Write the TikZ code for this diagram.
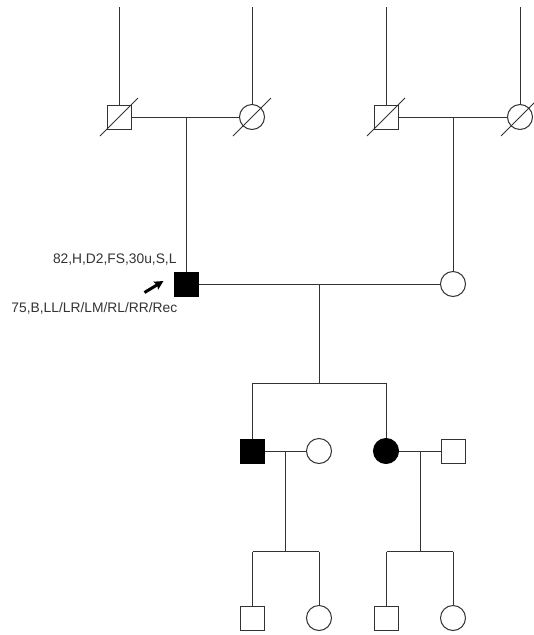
\documentclass[tikz,border=0pt]{standalone}
\usepackage{fontspec}
\setmainfont{Liberation Sans}
\usetikzlibrary{calc,arrows.meta}
\definecolor{ln}{HTML}{333333}
\definecolor{tx}{HTML}{333333}
\begin{document}
\begin{tikzpicture}[x=1pt,y=-1pt,
  line width=1pt,
  male/.style={draw=ln,fill=white,rectangle,minimum size=24pt,inner sep=0pt,line width=1pt},
  female/.style={draw=ln,fill=white,circle,minimum size=25pt,inner sep=0pt,line width=1pt},
  aff/.style={fill=black,draw=black},
  conn/.style={draw=ln,line width=1pt},
  lbl/.style={text=tx,font=\fontsize{13.8}{16}\selectfont,inner sep=0pt}]
\useasboundingbox (0,0) rectangle (534,635);
\fill[white] (0,0) rectangle (534,635);
% top coordinates
\coordinate (t1) at (119,7);
\coordinate (t2) at (252,7);
\coordinate (t3) at (386,7);
\coordinate (t4) at (520,7);
% generation I
\node[male] (gf1) at (119,117) {};
\node[female] (gm1) at (252,117) {};
\node[male] (gf2) at (386,117) {};
\node[female] (gm2) at (520,117) {};
% generation II
\node[male,aff] (P) at (186,284) {};
\node[female] (W) at (453,284) {};
% generation III
\node[male,aff] (c1) at (252.5,451) {};
\node[female] (s1) at (319,451) {};
\node[female,aff] (c2) at (386,451) {};
\node[male] (s2) at (453,451) {};
% generation IV
\node[male] (g1) at (252.5,618) {};
\node[female] (g2) at (319,618) {};
\node[male] (g3) at (386.5,618) {};
\node[female] (g4) at (453,618) {};
% helper coordinates
\coordinate (m1) at (186,117);
\coordinate (m2) at (453,117);
\coordinate (m3) at (319,284);
\coordinate (b3) at (319,383);
\coordinate (s3l) at (252.5,383);
\coordinate (s3r) at (386,383);
\coordinate (m4) at (285.7,451);
\coordinate (b4) at (285.7,551.7);
\coordinate (s4l) at (252.5,551.7);
\coordinate (s4r) at (319,551.7);
\coordinate (m5) at (420,451);
\coordinate (b5) at (420,551.7);
\coordinate (s5l) at (386.5,551.7);
\coordinate (s5r) at (453,551.7);
% connectors
\draw[conn] (t1) -- (gf1.north);
\draw[conn] (t2) -- (gm1.north);
\draw[conn] (t3) -- (gf2.north);
\draw[conn] (t4) -- (gm2.north);
\draw[conn] (gf1.east) -- (gm1.west);
\draw[conn] (gf2.east) -- (gm2.west);
\draw[conn] (m1) -- (P.north);
\draw[conn] (m2) -- (W.north);
\draw[conn] (P.east) -- (W.west);
\draw[conn] (m3) -- (b3);
\draw[conn] (s3l) -- (s3r);
\draw[conn] (s3l) -- (c1.north);
\draw[conn] (s3r) -- (c2.north);
\draw[conn] (c1.east) -- (s1.west);
\draw[conn] (c2.east) -- (s2.west);
\draw[conn] (m4) -- (b4);
\draw[conn] (s4l) -- (s4r);
\draw[conn] (s4l) -- (g1.north);
\draw[conn] (s4r) -- (g2.north);
\draw[conn] (m5) -- (b5);
\draw[conn] (s5l) -- (s5r);
\draw[conn] (s5l) -- (g3.north);
\draw[conn] (s5r) -- (g4.north);
% deceased slashes
\foreach \n in {gf1,gm1,gf2,gm2}
  \draw[conn] ($(\n)+(-19,19)$) -- ($(\n)+(19,-19)$);
% proband arrow
\coordinate (a0) at (144.5,292.5);
\coordinate (a1) at (163.5,281);
\draw[black,line width=3pt,-{Stealth[length=9pt,width=9pt,inset=1.5pt]}] (a0) -- (a1);
% labels
\node[lbl,anchor=base east] (l1) at (177,263.3) {82,H,D2,FS,30u,S,L};
\node[lbl,anchor=base west] (l2) at (11,312.7) {75,B,LL/LR/LM/RL/RR/Rec};
\end{tikzpicture}
\end{document}
